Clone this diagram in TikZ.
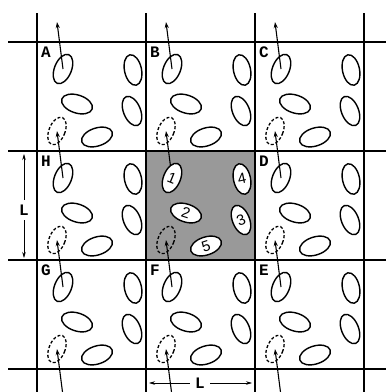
\documentclass[tikz,border=0pt]{standalone}
\usepackage{fontspec}
\newfontfamily\labelfont{Liberation Mono}
\setsansfont{Liberation Sans}
\usetikzlibrary{shapes.geometric, arrows.meta}
\tikzset{
    grid/.style={line width=2.9pt, draw=black},
    particle/.style={ellipse, draw=black, line width=1.4pt, fill=white, inner sep=0pt, minimum width=17pt, minimum height=31pt},
    flat/.style={particle, minimum width=32pt, minimum height=18pt},
    ghost/.style={ellipse, draw=black, line width=1.3pt, dash pattern=on 3pt off 2pt, inner sep=0pt, minimum width=16pt, minimum height=29pt},
    move/.style={line width=1.1pt, -{Stealth[length=6pt, width=4pt]}},
    dim/.style={line width=0.6pt, -{Stealth[length=6pt, width=3.5pt]}},
    celllabel/.style={anchor=north west, inner sep=0pt, font=\labelfont\bfseries\fontsize{16}{16}\selectfont},
    number/.style={font=\sffamily\fontsize{15}{15}\selectfont}
}

\begin{document}
\begin{tikzpicture}[x=1pt, y=-1pt]
        \useasboundingbox (0,0) rectangle (386,392);
        \clip (0,0) rectangle (386,392);

        % Shaded cell
        \fill[black!40] (146,151) rectangle (255,260);

        % Grid
        \foreach \p in {37,146,255,364} {
            \draw[grid] (\p,13) -- (\p,392);
        }
        \foreach \p in {42,151,260,369} {
            \draw[grid] (8,\p) -- (386,\p);
        }

        % Image cells
        \foreach \n/\c/\r in {A/0/0, B/1/0, C/2/0, H/0/1, D/2/1, G/0/2, F/1/2, E/2/2} {
            \begin{scope}[shift={(37+109*\c, 42+109*\r)}]
                \node[celllabel] (\n-lab) at (4,5) {\n};
                \node[particle, rotate=-22] (\n-p1) at (26,27) {};
                \node[flat, rotate=-18] (\n-p2) at (40,62) {};
                \node[particle, rotate=22] (\n-p3) at (95,69) {};
                \node[particle, rotate=12] (\n-p4) at (96,28) {};
                \node[flat, rotate=18] (\n-p5) at (60,95) {};
                \node[ghost, rotate=-22] (\n-g) at (20,89) {};
                \coordinate (\n-top) at (20,-20);
                \coordinate (\n-bot) at (26,136);
            \end{scope}
        }

        % Central cell
        \begin{scope}[shift={(146,151)}]
            \node[particle, number, rotate=-22] (M-p1) at (26,27) {1};
            \node[flat, number, rotate=-18] (M-p2) at (40,62) {2};
            \node[particle, number, rotate=22] (M-p3) at (95,69) {3};
            \node[particle, number, rotate=12] (M-p4) at (96,28) {4};
            \node[flat, number, rotate=18] (M-p5) at (60,95) {5};
            \node[ghost, rotate=-22] (M-g) at (20,89) {};
        \end{scope}

        % Arrows
        \foreach \n in {A,B,C} \draw[move] (\n-p1.center) -- (\n-top);
        \foreach \n/\m in {H/A, D/C, G/H, E/D} \draw[move] (\n-p1.center) -- (\m-g.center);
        \draw[move] (M-p1) -- (B-g.center);
        \draw[move] (F-p1.center) -- (M-g.center);
        \foreach \n in {G,F,E} \draw[move] (\n-bot) -- (\n-g.center);

        % Dimensions
        \node[celllabel, anchor=center, inner sep=5pt] (Lv) at (24,210) {L};
        \coordinate (Lv-top) at (24,154);
        \coordinate (Lv-bot) at (24,258);
        \draw[dim] (Lv) -- (Lv-top);
        \draw[dim] (Lv) -- (Lv-bot);
        \node[celllabel, anchor=center, inner sep=5pt] (Lh) at (200,383) {L};
        \coordinate (Lh-left) at (149,383);
        \coordinate (Lh-right) at (252,383);
        \draw[dim] (Lh) -- (Lh-left);
        \draw[dim] (Lh) -- (Lh-right);
    \end{tikzpicture}
\end{document}
